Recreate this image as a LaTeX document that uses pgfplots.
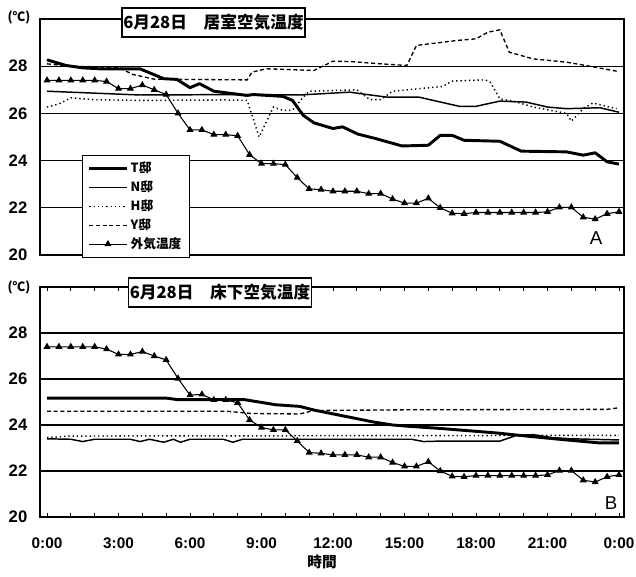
\documentclass[border=0pt]{standalone}
\usepackage{fontspec}
\setmainfont{Liberation Sans}
\newfontfamily\jp{Noto Sans CJK JP}
\usepackage{pgfplots}
\pgfplotsset{compat=1.18}

\pgfplotsset{
  panel/.style={
    scale only axis,
    width=438pt,
    xmin=-0.294, xmax=24.21,
    ymin=20, ymax=30,
    ytick={20,22,24,26,28},
    ymajorgrids,
    grid style={black, line width=0.9pt},
    axis line style={line width=1.5pt},
    ytick style={draw=none},
    /pgf/number format/assume math mode=true,
    yticklabel style={font=\fontsize{12.5}{13}\selectfont\bfseries, xshift=-6pt},
    clip=true,
  },
  tT/.style={black, line width=2.2pt, line join=round},
  tN/.style={black, line width=1.1pt, line join=round},
  tH/.style={black, line width=1.1pt, dash pattern=on 1pt off 2.2pt},
  tY/.style={black, line width=1.0pt, dash pattern=on 3pt off 2pt},
  tO/.style={black, line width=0.8pt, mark=triangle*, mark size=2.3pt, mark options={solid}},
}

\begin{document}
\begin{tikzpicture}[x=0.75pt,y=0.75pt]
\useasboundingbox (0,0) rectangle (636,576);

% ---------- Top panel ----------
\begin{axis}[panel,
  at={(30pt,240.75pt)}, anchor=south west,
  height=177pt,
  xtick=\empty,
  legend style={at={(0.072,0.423)}, anchor=north west, draw=black, line width=0.6pt,
    font=\jp\bfseries\fontsize{9.5}{10}\selectfont, row sep=0.6pt,
    inner xsep=4pt, inner ysep=3pt, cells={anchor=west}},
  legend image code/.code={\draw[mark repeat=2,mark phase=2,#1] plot coordinates {(0pt,0pt) (14pt,0pt) (28pt,0pt)};},
]
\addplot[tT] coordinates {(0,28.27)(0.8,28.03)(1.5,27.93)(2.2,27.89)(3.9,27.89)(4.9,27.47)(5.45,27.44)(6.0,27.09)(6.4,27.26)(7.0,26.94)(8.4,26.76)(8.65,26.8)(9.9,26.72)(10.3,26.55)(10.75,25.92)(11.2,25.6)(12.0,25.36)(12.4,25.43)(13.05,25.12)(13.8,24.93)(14.9,24.62)(16.0,24.65)(16.5,25.07)(17.0,25.07)(17.5,24.86)(19.0,24.82)(19.9,24.4)(21.8,24.37)(22.5,24.23)(23.0,24.33)(23.5,23.95)(24,23.85)};
\addlegendentry{T邸}
\addplot[tN] coordinates {(0,26.94)(3.9,26.78)(8.5,26.8)(10.6,26.78)(12.7,26.9)(13.2,26.83)(14.25,26.69)(15.6,26.69)(17.3,26.3)(18.0,26.3)(19.0,26.52)(20.1,26.48)(21.0,26.27)(21.8,26.2)(23.2,26.24)(24,26.05)};
\addlegendentry{N邸}
\addplot[tH] coordinates {(0,26.27)(0.5,26.4)(1.0,26.66)(2,26.58)(4,26.55)(7.5,26.57)(8.4,26.55)(8.9,25.0)(9.5,26.27)(9.9,26.13)(10.3,26.13)(10.75,26.69)(11.0,26.94)(13.0,27.0)(13.55,26.58)(14.0,26.58)(14.5,26.94)(16.6,27.14)(17.0,27.37)(18.4,27.42)(18.6,27.32)(19.0,26.62)(19.7,26.48)(20.4,26.27)(21.8,26.0)(22.0,25.67)(22.5,26.2)(22.9,26.44)(23.9,26.2)};
\addlegendentry{H邸}
\addplot[tY] coordinates {(0,28.1)(1.0,28.0)(3.0,27.95)(3.6,27.65)(4.5,27.45)(8.4,27.42)(8.6,27.75)(9.2,27.89)(11.2,27.82)(12.0,28.21)(12.7,28.2)(14,28.1)(15.1,28.03)(15.5,28.88)(17.2,29.09)(18.0,29.16)(18.5,29.44)(19.0,29.54)(19.4,28.59)(20.4,28.31)(21.8,28.17)(22.6,28.03)(23.9,27.79)};
\addlegendentry{Y邸}
\addplot[tO] coordinates {(0,27.4)(0.5,27.4)(1,27.4)(1.5,27.4)(2,27.4)(2.5,27.35)(3,27.05)(3.5,27.05)(4,27.2)(4.5,27.0)(5,26.8)(5.5,26.0)(6,25.3)(6.5,25.3)(7,25.1)(7.5,25.1)(8,25.05)(8.5,24.25)(9,23.87)(9.5,23.87)(10,23.83)(10.5,23.28)(11,22.8)(11.5,22.77)(12,22.7)(12.5,22.7)(13,22.7)(13.5,22.6)(14,22.6)(14.5,22.37)(15,22.2)(15.5,22.2)(16,22.4)(16.5,22.0)(17,21.77)(17.5,21.75)(18,21.8)(18.5,21.8)(19,21.8)(19.5,21.8)(20,21.8)(20.5,21.8)(21,21.83)(21.5,22.02)(22,22.02)(22.5,21.6)(23,21.52)(23.5,21.75)(24,21.83)};
\addlegendentry{外気温度}
\end{axis}

% ---------- Bottom panel ----------
\begin{axis}[panel,
  at={(30pt,44.25pt)}, anchor=south west,
  height=172.5pt,
  xtick={0,3,...,24},
  xticklabels={0:00,3:00,6:00,9:00,12:00,15:00,18:00,21:00,0:00},
  minor xtick={1,2,4,5,7,8,10,11,13,14,16,17,19,20,22,23},
  tick align=inside,
  major tick length=3pt, minor tick length=3pt,
  xtick style={black, line width=0.6pt},
  xticklabel style={font=\fontsize{11.5}{12}\selectfont\bfseries, yshift=-12pt},
]
\addplot[tT] coordinates {(0,25.17)(5.0,25.17)(5.5,25.1)(8.3,25.1)(9.6,24.88)(10.6,24.81)(11.2,24.65)(13.7,24.13)(14.5,24.0)(15.1,23.95)(16.5,23.85)(18.9,23.65)(20.3,23.5)(21.7,23.36)(23.2,23.22)(24,23.22)};
\addplot[tN] coordinates {(0,23.4)(1,23.38)(1.5,23.28)(2,23.38)(3.5,23.38)(3.9,23.28)(4.3,23.38)(4.9,23.25)(5.3,23.38)(5.6,23.25)(6,23.38)(7.4,23.38)(7.8,23.25)(8.2,23.38)(15.3,23.38)(15.8,23.28)(16.5,23.3)(19,23.3)(19.7,23.55)(20.4,23.58)(21.2,23.45)(22,23.4)(24,23.35)};
\addplot[tH] coordinates {(0,23.45)(1,23.52)(24,23.55)};
\addplot[tY] coordinates {(0,24.6)(7.5,24.6)(8.6,24.5)(10.6,24.48)(11.2,24.63)(15,24.66)(23.5,24.68)(24,24.75)};
\addplot[tO] coordinates {(0,27.4)(0.5,27.4)(1,27.4)(1.5,27.4)(2,27.4)(2.5,27.3)(3,27.07)(3.5,27.07)(4,27.19)(4.5,27.0)(5,26.83)(5.5,26.02)(6,25.3)(6.5,25.33)(7,25.09)(7.5,25.09)(8,24.97)(8.5,24.22)(9,23.89)(9.5,23.79)(10,23.79)(10.5,23.31)(11,22.8)(11.5,22.77)(12,22.7)(12.5,22.7)(13,22.7)(13.5,22.6)(14,22.6)(14.5,22.37)(15,22.2)(15.5,22.2)(16,22.4)(16.5,22.0)(17,21.77)(17.5,21.75)(18,21.8)(18.5,21.8)(19,21.8)(19.5,21.8)(20,21.8)(20.5,21.8)(21,21.83)(21.5,22.02)(22,22.02)(22.5,21.6)(23,21.52)(23.5,21.75)(24,21.83)};
\end{axis}

% ---------- Titles and labels ----------
\node[draw=black, line width=1.1pt, fill=white, inner sep=0pt, minimum width=137pt, minimum height=21.5pt,
  font=\jp\bfseries\fontsize{12.5}{14}\selectfont] at (213.5,553.5) {6月28日\hspace{1em}居室空気温度};
\node[draw=black, line width=1.1pt, fill=white, inner sep=0pt, minimum width=137pt, minimum height=21.5pt,
  font=\jp\bfseries\fontsize{12.5}{14}\selectfont] at (220,283.5) {6月28日\hspace{1em}床下空気温度};

\node[font=\jp\bfseries\fontsize{9.5}{10}\selectfont] at (19,559) {(℃)};
\node[font=\jp\bfseries\fontsize{9.5}{10}\selectfont] at (19,289) {(℃)};
\node[font=\jp\bfseries\fontsize{11}{12}\selectfont] at (322,14) {時間};
\node[font=\fontsize{14}{15}\selectfont] at (596,338) {A};
\node[font=\fontsize{14}{15}\selectfont] at (611,73) {B};
\end{tikzpicture}
\end{document}
